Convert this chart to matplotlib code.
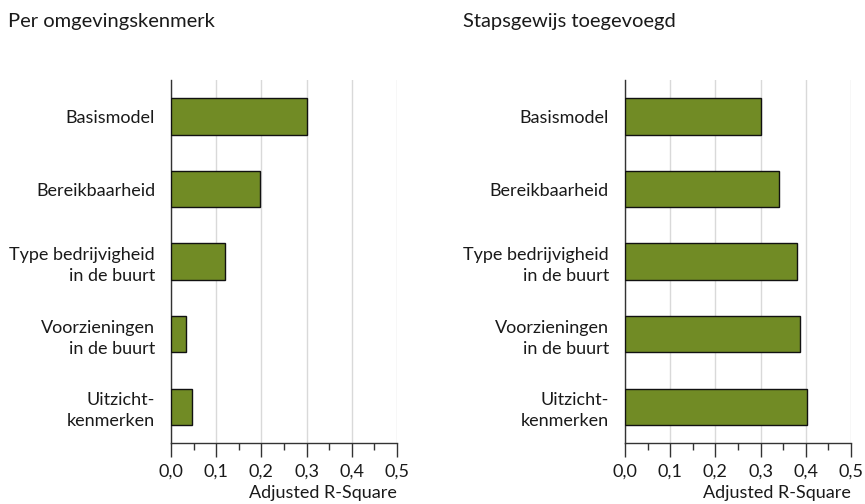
import matplotlib.pyplot as plt
from matplotlib.ticker import MultipleLocator, FuncFormatter

plt.rcParams['font.family'] = ['Lato', 'DejaVu Sans']

categories = [
    "Basismodel",
    "Bereikbaarheid",
    "Type bedrijvigheid\nin de buurt",
    "Voorzieningen\nin de buurt",
    "Uitzicht-\nkenmerken",
]
per_kenmerk = [0.301, 0.197, 0.119, 0.033, 0.046]
stapsgewijs = [0.301, 0.341, 0.381, 0.387, 0.403]
titles = ["Per omgevingskenmerk", "Stapsgewijs toegevoegd"]

bar_color = "#718b25"
grid_color = "#d9d9d9"
text_color = "#1a1a1a"

fig = plt.figure(figsize=(8.65, 5.04), dpi=100)

panels = [
    (0.1977, per_kenmerk, titles[0], 8 / 865),
    (0.7225, stapsgewijs, titles[1], 463 / 865),
]

for x0, values, title, title_x in panels:
    ax = fig.add_axes([x0, 0.121, 0.2613, 0.720])
    ax.barh(range(len(categories)), values, height=0.5,
            color=bar_color, edgecolor="#111111", linewidth=1.0, zorder=3)
    ax.set_xlim(0, 0.5)
    ax.set_ylim(len(categories) - 0.5, -0.5)
    ax.set_yticks(range(len(categories)))
    ax.set_yticklabels(categories, fontsize=13, color=text_color,
                       ha="right", multialignment="right", linespacing=1.4)
    ax.tick_params(axis="y", length=0, pad=11.5)

    ax.xaxis.set_major_locator(MultipleLocator(0.1))
    ax.xaxis.set_minor_locator(MultipleLocator(0.05))
    ax.xaxis.set_major_formatter(FuncFormatter(lambda v, p: f"{v:.1f}".replace(".", ",")))
    ax.tick_params(axis="x", which="major", length=10, width=1, color="#333333",
                   labelsize=13, labelcolor=text_color, pad=5)
    ax.tick_params(axis="x", which="minor", length=5, width=1, color="#333333")
    ax.grid(axis="x", color=grid_color, linewidth=1, zorder=0)

    for side in ["top", "right"]:
        ax.spines[side].set_visible(False)
    for side in ["left", "bottom"]:
        ax.spines[side].set_color("#333333")
        ax.spines[side].set_linewidth(1)

    ax.text(1.0, -0.117, "Adjusted R-Square", transform=ax.transAxes,
            ha="right", va="top", fontsize=13, color=text_color)

    fig.text(title_x, 1 - 22 / 504, title, ha="left", va="center",
             fontsize=14.5, color=text_color)

plt.savefig("out.png", dpi=100)
